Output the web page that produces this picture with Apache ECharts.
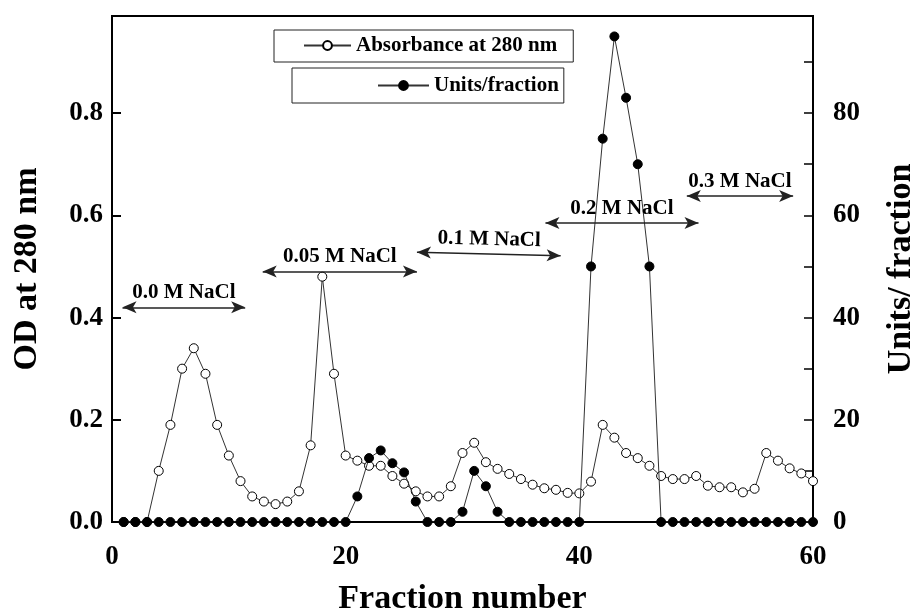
<!DOCTYPE html>
<html><head><meta charset="utf-8">
<script src="https://cdn.jsdelivr.net/npm/echarts@6/dist/echarts.min.js"></script>
<style>html,body{margin:0;padding:0;background:#fff}#c{width:917px;height:609px}</style>
</head><body><div id="c"></div>
<script>
// ---- data ----
const fractions = [1,2,3,4,5,6,7,8,9,10,11,12,13,14,15,16,17,18,19,20,21,22,23,24,25,26,27,28,29,30,
                   31,32,33,34,35,36,37,38,39,40,41,42,43,44,45,46,47,48,49,50,51,52,53,54,55,56,57,58,59,60];
const absorbance = [0,0,0,0.10,0.19,0.30,0.34,0.29,0.19,0.13,0.08,0.05,0.04,0.035,0.04,0.06,0.15,0.48,0.29,0.13,
                    0.12,0.11,0.11,0.09,0.075,0.06,0.05,0.05,0.07,0.135,0.155,0.117,0.104,0.094,0.084,0.073,0.066,0.063,0.057,0.056,
                    0.079,0.19,0.165,0.135,0.125,0.11,0.09,0.084,0.084,0.09,0.071,0.068,0.068,0.058,0.065,0.135,0.12,0.105,0.095,0.08];
const unitsPerFraction = [0,0,0,0,0,0,0,0,0,0,0,0,0,0,0,0,0,0,0,0,
                          5,12.5,14,11.5,9.7,4,0,0,0,2,10,7,2,0,0,0,0,0,0,0,
                          50,75,95,83,70,50,0,0,0,0,0,0,0,0,0,0,0,0,0,0];
const seriesNames = ['Absorbance at 280 nm', 'Units/fraction'];
const xTicks = [0, 20, 40, 60];
const odTicks = [0, 0.2, 0.4, 0.6, 0.8];
const unitTicks = [0, 20, 40, 60, 80];
// salt step annotations (fraction range and OD level of the double arrow)
const saltSteps = ['0.0 M NaCl', '0.05 M NaCl', '0.1 M NaCl', '0.2 M NaCl', '0.3 M NaCl'];
const stepFrom = [0.9, 12.9, 26.1, 37.1, 49.2];
const stepTo = [11.4, 26.1, 38.4, 50.2, 58.3];
const stepLevelFrom = [0.42, 0.49, 0.528, 0.585, 0.638];
const stepLevelTo = [0.42, 0.49, 0.521, 0.585, 0.638];

const FONT = "'Liberation Serif','Times New Roman',serif";
const chart = echarts.init(document.getElementById('c'), null, {renderer: 'canvas'});

const option = {
  animation: false,
  backgroundColor: '#fff',
  textStyle: {fontFamily: FONT},
  grid: {left: 112, right: 104, top: 16, bottom: 87, show: true, borderColor: '#000', borderWidth: 2,
         containLabel: false, outerBoundsMode: 'none'},
  legend: [
    {data: [seriesNames[0]], left: 274, top: 30, padding: [5, 16, 6, 29], itemWidth: 47, itemHeight: 11,
     borderColor: '#222', borderWidth: 1, selectedMode: false,
     textStyle: {fontSize: 21, fontWeight: 'bold', color: '#000', fontFamily: FONT}},
    {data: [seriesNames[1]], left: 292, top: 68, padding: [7, 5, 7, 85], itemWidth: 51, itemHeight: 11,
     borderColor: '#222', borderWidth: 1, selectedMode: false,
     textStyle: {fontSize: 21, fontWeight: 'bold', color: '#000', fontFamily: FONT}}
  ],
  xAxis: {
    type: 'value', min: xTicks[0], max: xTicks[xTicks.length - 1], interval: xTicks[1] - xTicks[0],
    axisLine: {lineStyle: {color: '#000', width: 2}},
    axisTick: {show: false}, splitLine: {show: false},
    axisLabel: {margin: 22, fontSize: 27, fontWeight: 'bold', color: '#000', fontFamily: FONT},
    name: 'Fraction number', nameLocation: 'middle', nameGap: 60,
    nameTextStyle: {fontSize: 34, fontWeight: 'bold', color: '#000', fontFamily: FONT}
  },
  yAxis: [
    {
      type: 'value', position: 'left', min: odTicks[0], max: 0.99, interval: odTicks[1] - odTicks[0],
      axisLine: {show: true, lineStyle: {color: '#000', width: 2}},
      axisTick: {show: true, inside: true, length: 9, lineStyle: {color: '#000', width: 2}},
      splitLine: {show: false},
      axisLabel: {margin: 9, showMaxLabel: false, fontSize: 27, fontWeight: 'bold', color: '#000', fontFamily: FONT,
                  formatter: v => v.toFixed(1)},
      name: 'OD at 280 nm', nameLocation: 'middle', nameRotate: 90, nameGap: 68,
      nameTextStyle: {fontSize: 34, fontWeight: 'bold', color: '#000', fontFamily: FONT}
    },
    {
      type: 'value', position: 'right', min: unitTicks[0], max: 99, interval: unitTicks[1] - unitTicks[0],
      axisLine: {show: true, lineStyle: {color: '#000', width: 2}},
      axisTick: {show: true, inside: true, length: 9, lineStyle: {color: '#000', width: 1.5}},
      minorTick: {show: true, splitNumber: 2, length: 9, lineStyle: {color: '#000', width: 1.5}},
      splitLine: {show: false}, minorSplitLine: {show: false},
      axisLabel: {margin: 20, showMaxLabel: false, fontSize: 27, fontWeight: 'bold', color: '#000', fontFamily: FONT},
      name: 'Units/ fraction', nameLocation: 'middle', nameRotate: 90, nameGap: 71,
      nameTextStyle: {fontSize: 34, fontWeight: 'bold', color: '#000', fontFamily: FONT}
    }
  ],
  series: [
    {
      name: seriesNames[0], type: 'line', yAxisIndex: 0, z: 2,
      data: fractions.map((f, i) => [f, absorbance[i]]),
      symbol: 'circle', symbolSize: 9, showSymbol: true, showAllSymbol: true,
      lineStyle: {color: '#333', width: 1},
      itemStyle: {color: '#fff', borderColor: '#000', borderWidth: 1},
      emphasis: {disabled: true},
      markLine: {
        silent: true, animation: false,
        symbol: ['arrow', 'arrow'], symbolSize: [9, 14],
        lineStyle: {color: '#222', width: 1.5, type: 'solid'},
        itemStyle: {color: '#000'},
        label: {show: true, position: 'middle', formatter: '{b}', distance: 4,
                color: '#000', fontSize: 21, fontWeight: 'bold', fontFamily: FONT},
        data: saltSteps.map((s, i) => [
          {name: s, coord: [stepFrom[i], stepLevelFrom[i]]},
          {coord: [stepTo[i], stepLevelTo[i]]}
        ])
      }
    },
    {
      name: seriesNames[1], type: 'line', yAxisIndex: 1, z: 3,
      data: fractions.map((f, i) => [f, unitsPerFraction[i]]),
      symbol: 'circle', symbolSize: 9, showSymbol: true, showAllSymbol: true,
      lineStyle: {color: '#333', width: 1},
      itemStyle: {color: '#000', borderColor: '#000', borderWidth: 1},
      emphasis: {disabled: true}
    }
  ]
};
chart.setOption(option);
</script>
</body></html>
